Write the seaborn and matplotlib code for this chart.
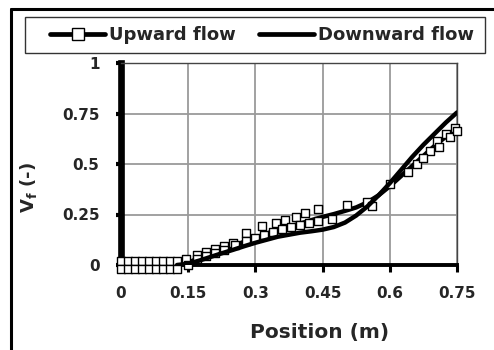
import matplotlib
matplotlib.use("Agg")
import matplotlib.pyplot as plt
from matplotlib.lines import Line2D
from matplotlib.patches import Rectangle
import seaborn as sns

# ---------------- data ----------------
position = [0.125, 0.15, 0.175, 0.2, 0.225, 0.25, 0.275, 0.3, 0.325, 0.35, 0.375,
            0.4, 0.425, 0.45, 0.475, 0.5, 0.525, 0.55, 0.575, 0.6, 0.625, 0.65,
            0.675, 0.7, 0.725, 0.75]
upward_line = [0.0, 0.012, 0.035, 0.055, 0.075, 0.095, 0.115, 0.135, 0.155, 0.175,
               0.19, 0.205, 0.222, 0.238, 0.252, 0.268, 0.285, 0.31, 0.345, 0.39,
               0.44, 0.49, 0.54, 0.59, 0.635, 0.68]
downward_line = [0.0, 0.006, 0.022, 0.04, 0.058, 0.075, 0.093, 0.11, 0.125, 0.14,
                 0.15, 0.16, 0.167, 0.175, 0.188, 0.21, 0.245, 0.29, 0.345, 0.405,
                 0.47, 0.535, 0.595, 0.65, 0.705, 0.755]

# upward-flow measurement markers (two rows)
upward_mark_x = [0.0, 0.016, 0.031, 0.047, 0.062, 0.078, 0.094, 0.109, 0.125,
                 0.0, 0.016, 0.031, 0.047, 0.062, 0.078, 0.094, 0.109, 0.125,
                 0.145, 0.17, 0.19, 0.21, 0.23, 0.25, 0.28, 0.315, 0.345, 0.365, 0.39,
                 0.41, 0.44, 0.505, 0.55, 0.6, 0.66, 0.69, 0.705, 0.725, 0.745,
                 0.15, 0.17, 0.19, 0.21, 0.23, 0.255, 0.28, 0.3, 0.32, 0.34, 0.36,
                 0.38, 0.40, 0.42, 0.44, 0.47, 0.56, 0.64, 0.675, 0.71, 0.735, 0.75]
upward_mark_y = [0.02] * 9 + [-0.02] * 9 + \
                [0.03, 0.05, 0.065, 0.08, 0.095, 0.11, 0.16, 0.195, 0.21, 0.225, 0.24,
                 0.255, 0.275, 0.295, 0.31, 0.4, 0.5, 0.565, 0.615, 0.65, 0.68,
                 0.0, 0.03, 0.045, 0.06, 0.075, 0.1, 0.12, 0.135, 0.15, 0.165, 0.18,
                 0.19, 0.2, 0.21, 0.22, 0.23, 0.29, 0.46, 0.53, 0.585, 0.635, 0.665]

x_ticks = [0, 0.15, 0.3, 0.45, 0.6, 0.75]
x_tick_labels = ["0", "0.15", "0.3", "0.45", "0.6", "0.75"]
y_ticks = [0, 0.25, 0.5, 0.75, 1]
y_tick_labels = ["0", "0.25", "0.5", "0.75", "1"]
series_names = ["Upward flow", "Downward flow"]

# ---------------- style ----------------
sns.set_theme(style="white")
plt.rcParams["font.family"] = ["DejaVu Sans"]
plt.rcParams["font.weight"] = "bold"
plt.rcParams["mathtext.default"] = "regular"

fig = plt.figure(figsize=(4.94, 3.5), dpi=100)
fig.patch.set_facecolor("white")
ax = fig.add_axes([121 / 494, 1 - 265 / 350, 336 / 494, 202 / 350])

sns.lineplot(x=position, y=upward_line, ax=ax, color="black", lw=3.2,
             sort=False, estimator=None, zorder=4)
sns.scatterplot(x=upward_mark_x, y=upward_mark_y, ax=ax, marker="s", s=34,
                facecolor="white", edgecolor="black", linewidth=1.0,
                clip_on=False, zorder=5)
sns.lineplot(x=position, y=downward_line, ax=ax, color="black", lw=3.2,
             sort=False, estimator=None, zorder=6)

ax.set_xlim(0, 0.75)
ax.set_ylim(0, 1)
ax.set_xticks(x_ticks)
ax.set_xticklabels(x_tick_labels)
ax.set_yticks(y_ticks)
ax.set_yticklabels(y_tick_labels)

ax.grid(True, color="#9a9a9a", lw=1.3)
ax.set_axisbelow(True)

for s in ["top", "right"]:
    ax.spines[s].set_color("#444444")
    ax.spines[s].set_linewidth(1.0)
ax.spines["left"].set_color("black")
ax.spines["left"].set_linewidth(4.8)
ax.spines["bottom"].set_color("black")
ax.spines["bottom"].set_linewidth(2.8)

ax.tick_params(axis="y", direction="out", length=3.5, width=3, color="black",
               pad=12, labelsize=11, left=True)
ax.tick_params(axis="x", direction="out", length=5, width=2.2, color="black",
               pad=10, labelsize=11, bottom=True)
for lab in ax.get_xticklabels() + ax.get_yticklabels():
    lab.set_fontweight("bold")

ax.set_xlabel("Position (m)", fontsize=14.5, fontweight="bold")
ax.xaxis.set_label_coords((320 - 121) / 336, (265 - 323) / 202)
ax.set_ylabel(r"V$_{f}$ (-)", fontsize=13, fontweight="bold")
ax.yaxis.set_label_coords((39 - 121) / 336, (265 - 188) / 202)

handles = [
    Line2D([], [], color="black", lw=3.4, marker="s", ms=8, mfc="white",
           mec="black", mew=1.0),
    Line2D([], [], color="black", lw=3.4),
]
leg = fig.legend(handles, series_names, loc="center", ncol=2,
                 bbox_to_anchor=(262 / 494, 1 - 35 / 350),
                 frameon=False, handlelength=3.05,
                 handletextpad=0.22, columnspacing=1.25, borderpad=0.3,
                 prop={"weight": "bold", "size": 13})

# legend box
fig.add_artist(Rectangle((25 / 494, 1 - 53 / 350), 460 / 494, 36 / 350,
                         transform=fig.transFigure, fill=False,
                         edgecolor="#333333", lw=1.0))

# outer frame (left and top edges visible)
fig.add_artist(Line2D([11 / 494, 11 / 494], [0, 1 - 9 / 350], color="black",
                      lw=2.2, transform=fig.transFigure))
fig.add_artist(Line2D([11 / 494, 1], [1 - 9 / 350, 1 - 9 / 350], color="black",
                      lw=2.2, transform=fig.transFigure))

fig.savefig("out.png", dpi=100)
